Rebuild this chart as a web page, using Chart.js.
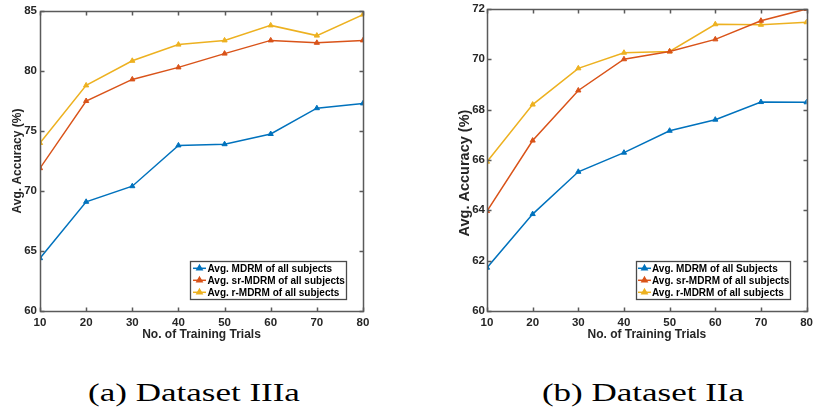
<!DOCTYPE html>
<html><head><meta charset="utf-8">
<script src="https://cdn.jsdelivr.net/npm/chart.js@4.4.0/dist/chart.umd.min.js"></script>
<style>
html,body{margin:0;padding:0;background:#fff;}
body{width:818px;height:414px;overflow:hidden;position:relative;}
#c1{position:absolute;left:0;top:0;}
#c2{position:absolute;left:400px;top:0;}
.cap{position:absolute;font-family:"Liberation Serif","Times New Roman",serif;font-size:25px;line-height:25px;color:#000;white-space:nowrap;transform:translate(-50%,-50%) scaleX(1.4);}
</style></head><body>
<canvas id="c1" width="400" height="345"></canvas>
<canvas id="c2" width="418" height="345"></canvas>
<div class="cap" style="left:194px;top:392px;">(a) Dataset IIIa</div>
<div class="cap" style="left:643px;top:392px;">(b) Dataset IIa</div>
<script>
// ---- data ----
const trials = [10, 20, 30, 40, 50, 60, 70, 80];
const xTicks = [10, 20, 30, 40, 50, 60, 70, 80];
const labelsA = ['Avg. MDRM of all subjects', 'Avg. sr-MDRM of all subjects', 'Avg. r-MDRM of all subjects'];
const labelsB = ['Avg. MDRM of all Subjects', 'Avg. sr-MDRM of all subjects', 'Avg. r-MDRM of all subjects'];
const mdrmA = [64.4, 69.1, 70.4, 73.8, 73.9, 74.75, 76.9, 77.3];
const srMdrmA = [71.9, 77.5, 79.3, 80.3, 81.45, 82.55, 82.35, 82.55];
const rMdrmA = [74.0, 78.8, 80.85, 82.2, 82.55, 83.8, 82.95, 84.7];
const mdrmB = [61.72, 63.85, 65.53, 66.29, 67.16, 67.6, 68.3, 68.29];
const srMdrmB = [63.97, 66.77, 68.76, 70.0, 70.31, 70.79, 71.53, 72.0];
const rMdrmB = [65.93, 68.2, 69.64, 70.26, 70.31, 71.39, 71.37, 71.47];
const yTicksA = [60, 65, 70, 75, 80, 85];
const yTicksB = [60, 62, 64, 66, 68, 70, 72];
const xTitle = 'No. of Training Trials';
const yTitle = 'Avg. Accuracy (%)';
const colors = ['#0072BD', '#D95319', '#EDB120'];

const TXT = '#262626';
const FONT = '"Liberation Sans", Arial, Helvetica, sans-serif';

const framePlugin = {
  id: 'frame',
  afterDraw(chart, args, opts) {
    const ctx = chart.ctx;
    const a = chart.chartArea;
    const xs = chart.scales.x, ys = chart.scales.y;
    ctx.save();
    // axis title (y)
    const yt = opts.yTitle;
    ctx.save();
    ctx.translate(yt.x, yt.y);
    ctx.rotate(-Math.PI / 2);
    ctx.fillStyle = TXT;
    ctx.font = 'bold ' + yt.size + 'px ' + FONT;
    ctx.textAlign = 'center';
    ctx.textBaseline = 'middle';
    ctx.fillText(yt.text, 0, 0);
    ctx.restore();

    ctx.strokeStyle = '#5a5a5a';
    ctx.lineWidth = 1.5;
    const L = Math.round(a.left) + 0.5, R = Math.round(a.right) + 0.5;
    const T = Math.round(a.top) + 0.5, B = Math.round(a.bottom) + 0.5;
    ctx.strokeRect(L, T, R - L, B - T);
    ctx.beginPath();
    const tl = 4;
    xs.ticks.forEach(t => {
      const px = Math.round(xs.getPixelForValue(t.value)) + 0.5;
      ctx.moveTo(px, B); ctx.lineTo(px, B - tl);
      ctx.moveTo(px, T); ctx.lineTo(px, T + tl);
    });
    ys.ticks.forEach(t => {
      const py = Math.round(ys.getPixelForValue(t.value)) + 0.5;
      ctx.moveTo(L, py); ctx.lineTo(L + tl, py);
      ctx.moveTo(R, py); ctx.lineTo(R - tl, py);
    });
    ctx.stroke();

    // legend
    const lg = opts.legend;
    ctx.fillStyle = '#fff';
    ctx.fillRect(lg.x, lg.y, lg.w, lg.h);
    ctx.strokeStyle = '#4a4a4a';
    ctx.lineWidth = 1.3;
    ctx.strokeRect(lg.x + 0.5, lg.y + 0.5, lg.w, lg.h);
    chart.data.datasets.forEach((ds, i) => {
      const y = lg.rowY0 + i * lg.rowH;
      ctx.strokeStyle = ds.borderColor;
      ctx.lineWidth = 1.5;
      ctx.beginPath();
      ctx.moveTo(lg.lineX0, y); ctx.lineTo(lg.lineX1, y);
      ctx.stroke();
      ctx.fillStyle = ds.borderColor;
      Chart.helpers.drawPoint(ctx, {pointStyle: 'triangle', radius: 3, borderWidth: 1, rotation: 0}, (lg.lineX0 + lg.lineX1) / 2, y);
      ctx.fillStyle = '#000';
      ctx.font = 'bold 10px ' + FONT;
      ctx.textBaseline = 'middle';
      ctx.textAlign = 'left';
      ctx.fillText(ds.label, lg.textX, y + 0.5);
    });
    ctx.restore();
  }
};

function makeChart(id, series, labels, yTicks, g) {
  const datasets = series.map((s, i) => ({
    label: labels[i],
    data: trials.map((t, j) => ({x: t, y: s[j]})),
    borderColor: colors[i],
    backgroundColor: colors[i],
    borderWidth: 1.5,
    pointStyle: 'triangle',
    pointRadius: 3,
    pointBorderWidth: 1,
    pointHoverRadius: 3,
    tension: 0,
    fill: false
  }));
  return new Chart(document.getElementById(id), {
    type: 'line',
    data: {datasets},
    plugins: [framePlugin],
    options: {
      responsive: false,
      animation: false,
      events: [],
      layout: {padding: {left: g.padLeft, right: g.padRight, top: g.padTop, bottom: 0}},
      plugins: {legend: {display: false}, tooltip: {enabled: false}, frame: {legend: g.legend, yTitle: g.yTitle}},
      scales: {
        x: {
          type: 'linear', min: 10, max: 80,
          afterBuildTicks: s => { s.ticks = xTicks.map(v => ({value: v})); },
          afterFit: s => { s.height = g.xHeight; },
          grid: {display: false, drawTicks: false},
          border: {display: false},
          ticks: {font: {family: FONT, size: 11.5, weight: 'bold'}, color: TXT, padding: 5, maxRotation: 0, autoSkip: false},
          title: {display: true, text: xTitle, color: TXT, font: {family: FONT, size: 12, weight: 'bold'}, padding: {top: 0, bottom: 3}}
        },
        y: {
          type: 'linear', min: yTicks[0], max: yTicks[yTicks.length - 1],
          afterBuildTicks: s => { s.ticks = yTicks.map(v => ({value: v})); },
          afterFit: s => { s.width = g.yWidth; },
          grid: {display: false, drawTicks: false},
          border: {display: false},
          ticks: {font: {family: FONT, size: 11.5, weight: 'bold'}, color: TXT, padding: g.yPad, autoSkip: false},
          title: {display: false}
        }
      }
    }
  });
}

makeChart('c1', [mdrmA, srMdrmA, rMdrmA], labelsA, yTicksA, {
  padLeft: 0, padRight: 37, padTop: 11, yWidth: 40, xHeight: 34, yPad: 3,
  yTitle: {text: yTitle, x: 18, y: 161, size: 12},
  legend: {x: 190, y: 261, w: 156, h: 38, lineX0: 193, lineX1: 206, textX: 207.5, rowY0: 268.3, rowH: 12}
});
makeChart('c2', [mdrmB, srMdrmB, rMdrmB], labelsB, yTicksB, {
  padLeft: 0, padRight: 8, padTop: 7, yWidth: 87, xHeight: 34, yPad: 2,
  yTitle: {text: yTitle, x: 65, y: 173, size: 14.5},
  legend: {x: 236, y: 261, w: 154, h: 38, lineX0: 238, lineX1: 251, textX: 252, rowY0: 268.3, rowH: 12}
});
</script>
</body></html>
